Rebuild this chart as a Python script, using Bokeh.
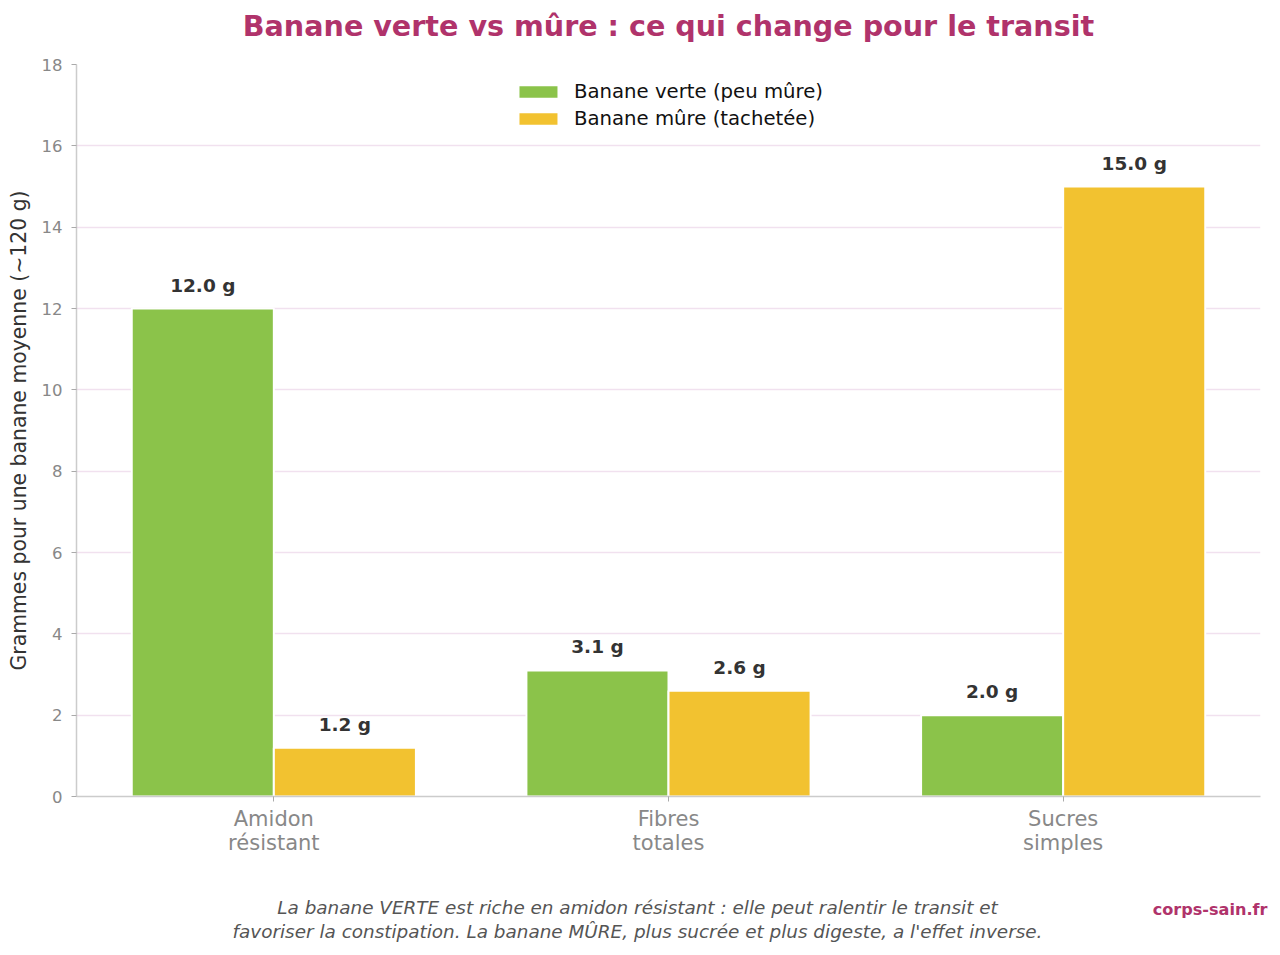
from bokeh.plotting import figure
from bokeh.layouts import column
from bokeh.models import ColumnDataSource, FixedTicker, Legend, LegendItem
from bokeh.core.properties import value
from bokeh.embed import file_html
from bokeh.resources import INLINE

# Nutrient content per average banana (~120 g)
categories = ["Amidon\nrésistant", "Fibres\ntotales", "Sucres\nsimples"]
verte = [12.0, 3.1, 2.0]
mure = [1.2, 2.6, 15.0]
series_names = ["Banane verte (peu mûre)", "Banane mûre (tachetée)"]
y_ticks = [0, 2, 4, 6, 8, 10, 12, 14, 16, 18]

title_text = "Banane verte vs mûre : ce qui change pour le transit"
note_lines = [
    "La banane VERTE est riche en amidon résistant : elle peut ralentir le transit et",
    "favoriser la constipation. La banane MÛRE, plus sucrée et plus digeste, a l'effet inverse.",
]
source_text = "corps-sain.fr"

FONT = "DejaVu Sans"
GREEN = "#8bc34a"
YELLOW = "#f2c230"
ACCENT = "#b0336b"
W = 1280
FRAME_L, FRAME_R = 76, 1260


def text_panel(height):
    # full-width text strip; x and y are in page pixels of the strip
    f = figure(width=W, height=height, x_range=(0, W), y_range=(0, height),
               x_axis_type=None, y_axis_type=None, output_backend="svg",
               toolbar_location=None, min_border=0)
    f.frame_align = False
    f.outline_line_color = None
    f.grid.grid_line_color = None
    return f


# ---- header with the title ----
HEAD_H = 50
head = text_panel(HEAD_H)
head.text(x=[668], y=[HEAD_H - 25], text=[title_text], text_align="center",
          text_baseline="middle", text_font=value(FONT), text_font_size="28.6px",
          text_font_style="bold", text_color=ACCENT)

# ---- main bar chart ----
p = figure(width=W, height=820, x_range=(-0.5, 2.5), y_range=(0, 18),
           output_backend="svg", toolbar_location=None,
           min_border_left=FRAME_L, min_border_right=W - FRAME_R,
           min_border_top=14, min_border_bottom=74)
p.outline_line_color = None

xs = list(range(len(categories)))
off = 0.18
src_v = ColumnDataSource(dict(x=[i - off for i in xs], top=verte,
                              lab=[f"{v:.1f} g" for v in verte]))
src_m = ColumnDataSource(dict(x=[i + off for i in xs], top=mure,
                              lab=[f"{v:.1f} g" for v in mure]))

r_v = p.vbar(x="x", top="top", width=0.36, source=src_v,
             fill_color=GREEN, line_color="white", line_width=2)
r_m = p.vbar(x="x", top="top", width=0.36, source=src_m,
             fill_color=YELLOW, line_color="white", line_width=2)

for src in (src_v, src_m):
    p.text(x="x", y="top", text="lab", source=src, text_align="center",
           text_baseline="bottom", y_offset=-13,
           text_font=value(FONT), text_font_size="18.5px",
           text_font_style="bold", text_color="#333333")

p.xaxis.ticker = FixedTicker(ticks=xs)
p.xaxis.major_label_overrides = {i: c for i, c in zip(xs, categories)}
p.xaxis.major_label_text_font = FONT
p.xaxis.major_label_text_font_size = "21px"
p.xaxis.major_label_text_line_height = 1.0
p.xaxis.major_label_text_color = "#888888"
p.xaxis.minor_tick_line_color = None
p.xaxis.major_tick_in = 0
p.xaxis.major_tick_out = 5
p.xaxis.major_tick_line_color = "#aaaaaa"
p.xaxis.axis_line_color = "#cccccc"
p.xaxis.axis_line_width = 1.5
p.xaxis.major_label_standoff = 5

p.yaxis.ticker = FixedTicker(ticks=y_ticks)
p.yaxis.major_label_text_font = FONT
p.yaxis.major_label_text_font_size = "16.5px"
p.yaxis.major_label_text_color = "#888888"
p.yaxis.minor_tick_line_color = None
p.yaxis.major_tick_in = 0
p.yaxis.major_tick_out = 5
p.yaxis.major_tick_line_color = "#aaaaaa"
p.yaxis.axis_line_color = "#cccccc"
p.yaxis.axis_line_width = 1.5
p.yaxis.major_label_standoff = 9
p.yaxis.axis_label = "Grammes pour une banane moyenne (~120 g)"
p.yaxis.axis_label_text_font = FONT
p.yaxis.axis_label_text_font_size = "20.4px"
p.yaxis.axis_label_text_font_style = "normal"
p.yaxis.axis_label_text_color = "#333333"
p.yaxis.axis_label_standoff = 8

p.xgrid.grid_line_color = None
p.ygrid.grid_line_color = "#f1e1ef"
p.ygrid.grid_line_width = 1.5

legend = Legend(items=[LegendItem(label=series_names[0], renderers=[r_v]),
                       LegendItem(label=series_names[1], renderers=[r_m])],
                location="top_center", border_line_color=None,
                background_fill_alpha=0, margin=16, padding=7,
                glyph_width=50, glyph_height=17, label_height=22,
                spacing=4, label_standoff=11,
                label_text_font=FONT, label_text_font_size="19.7px",
                label_text_color="#111111")
p.add_layout(legend)

# ---- footer with the note and the source ----
FOOT_H = 85
foot = text_panel(FOOT_H)
foot.text(x=[637, 637], y=[FOOT_H - 37, FOOT_H - 61], text=note_lines,
          text_align="center", text_baseline="middle", text_font=value(FONT),
          text_font_size="18.4px", text_font_style="italic", text_color="#555555")
foot.text(x=[1267], y=[FOOT_H - 39], text=[source_text], text_align="right",
          text_baseline="middle", text_font=value(FONT), text_font_size="16.1px",
          text_font_style="bold", text_color=ACCENT)

layout = column(head, p, foot, spacing=0)
open("out.html", "w").write(file_html(layout, INLINE))
